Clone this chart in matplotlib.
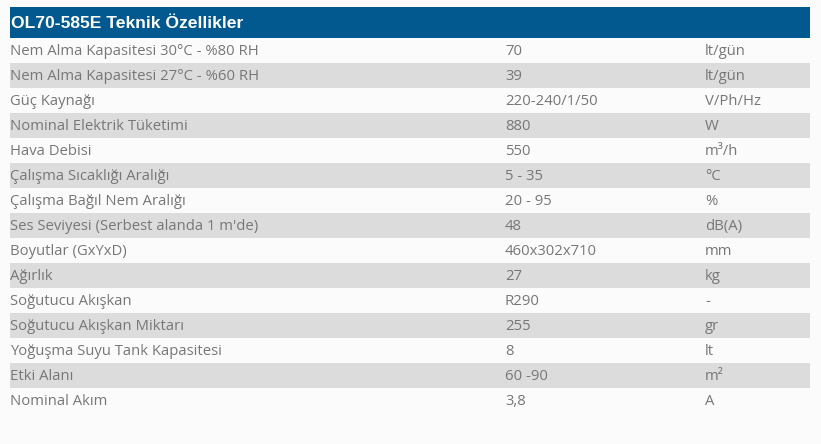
import matplotlib
matplotlib.use("Agg")
import matplotlib.pyplot as plt
from matplotlib.patches import Rectangle

TITLE = "OL70-585E Teknik Özellikler"
LABELS = [
    "Nem Alma Kapasitesi 30°C - %80 RH",
    "Nem Alma Kapasitesi 27°C - %60 RH",
    "Güç Kaynağı",
    "Nominal Elektrik Tüketimi",
    "Hava Debisi",
    "Çalışma Sıcaklığı Aralığı",
    "Çalışma Bağıl Nem Aralığı",
    "Ses Seviyesi (Serbest alanda 1 m'de)",
    "Boyutlar (GxYxD)",
    "Ağırlık",
    "Soğutucu Akışkan",
    "Soğutucu Akışkan Miktarı",
    "Yoğuşma Suyu Tank Kapasitesi",
    "Etki Alanı",
    "Nominal Akım",
]
VALUES = ["70", "39", "220-240/1/50", "880", "550", "5 - 35", "20 - 95", "48",
          "460x302x710", "27", "R290", "255", "8", "60 -90", "3,8"]
UNITS = ["lt/gün", "lt/gün", "V/Ph/Hz", "W", "m³/h", "°C", "%", "dB(A)",
         "mm", "kg", "-", "gr", "lt", "m²", "A"]

W, H = 821, 444
BG = "#fbfbfb"
STRIPE = "#dcdcdc"
HEAD = "#01598f"
TXT = "#777777"

fig = plt.figure(figsize=(W / 100, H / 100), dpi=100, facecolor=BG)
ax = fig.add_axes([0, 0, 1, 1])
ax.set_xlim(0, W)
ax.set_ylim(H, 0)
ax.axis("off")

x0, x1 = 10, 810
top, head_h, row_h = 7, 31, 25

# header bar
ax.add_patch(Rectangle((x0, top), x1 - x0, head_h, color=HEAD, lw=0))
ax.text(x0 + 1, top + head_h / 2 + 1, TITLE, color="white", fontsize=12.6,
        fontweight="bold", family="Liberation Sans", va="center")

# rows, every second one shaded
y = top + head_h
for i, (lab, val, unit) in enumerate(zip(LABELS, VALUES, UNITS)):
    if i % 2 == 1:
        ax.add_patch(Rectangle((x0, y), x1 - x0, row_h, color=STRIPE, lw=0))
    cy = y + row_h / 2 + 1
    for xx, s in [(x0, lab), (505, val), (705, unit)]:
        ax.text(xx, cy, s, color=TXT, fontsize=10.75, family="Open Sans",
                va="center")
    y += row_h

fig.savefig("out.png", dpi=100, facecolor=BG)
